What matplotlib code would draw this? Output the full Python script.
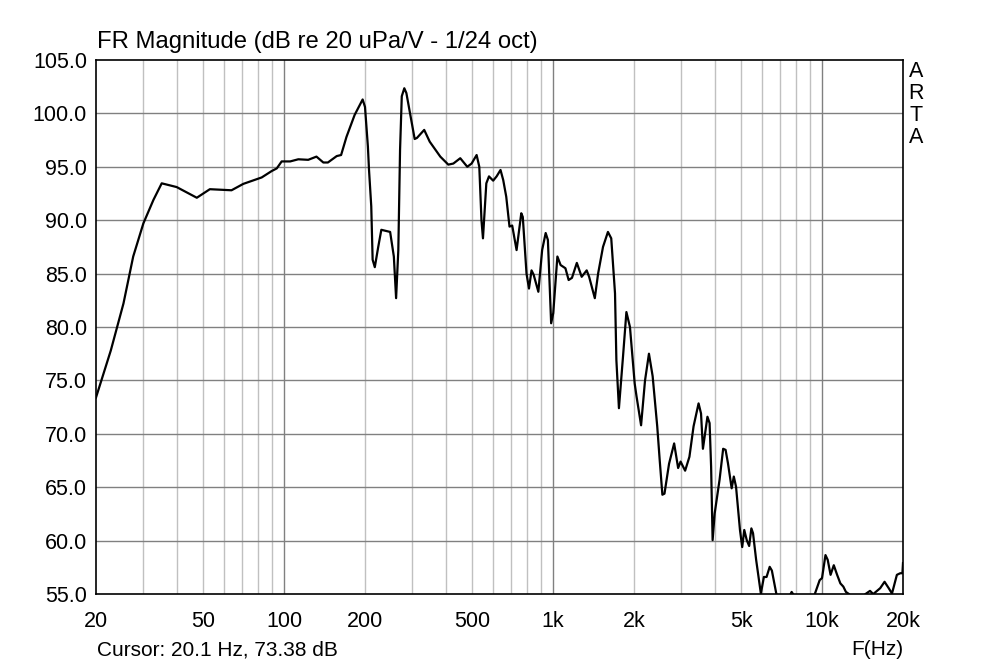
import matplotlib.pyplot as plt
import numpy as np

plt.rcParams['font.family'] = ['Liberation Sans', 'DejaVu Sans']

freq = [20, 21.3, 22.7, 25.3, 27.5, 30.0, 32.7, 35.1, 39.9, 47.4, 53, 63.8, 70.6, 82.6, 90, 94, 98,
        105.4, 113, 123, 132, 140, 145.6, 157, 163, 170.7, 183, 196, 200, 205, 207, 211, 213.5,
        217.5, 224, 230, 248, 256, 261, 266, 270, 274, 280, 285, 294, 306, 312, 332, 348, 381,
        408, 426, 452, 480, 498, 520, 532, 542, 549, 565, 578, 599, 617, 638, 653, 670, 689,
        705, 732, 762, 772, 797, 814, 832, 847, 882, 911, 939, 957, 984, 1002, 1038, 1067,
        1112, 1143, 1176, 1226, 1278, 1334, 1362, 1430, 1471, 1534, 1600, 1646, 1700, 1720,
        1758, 1820, 1874, 1932, 2012, 2044, 2125, 2198, 2273, 2346, 2440, 2492, 2550, 2596,
        2700, 2820, 2918, 2980, 3098, 3214, 3330, 3476, 3550, 3608, 3750, 3820, 3870, 3920,
        3990, 4160, 4290, 4380, 4470, 4614, 4700, 4790, 4954, 5050, 5140, 5250, 5360, 5462,
        5540, 5690, 5924, 6080, 6220, 6390, 6510, 6760, 7000, 7400, 7710, 7900, 8500, 9400,
        9800, 10000, 10300, 10500, 10760, 11060, 11380, 11700, 12000, 12270, 12600, 13200,
        13900, 14500, 15080, 15500, 16450, 17080, 17700, 18200, 18980, 19530, 19900, 20000]
spl = [73.4, 75.6, 77.8, 82.2, 86.6, 89.7, 91.9, 93.45, 93.1, 92.1, 92.9, 92.8, 93.4, 94.0, 94.6, 94.85, 95.5,
       95.5, 95.7, 95.65, 95.95, 95.4, 95.4, 96.0, 96.1, 97.8, 99.85, 101.3, 100.6, 96.9, 94.7, 91.3, 86.3,
       85.6, 87.5, 89.1, 88.9, 86.6, 82.7, 87.2, 96.6, 101.6, 102.35, 101.9, 100.0, 97.6, 97.7, 98.45, 97.35, 95.95,
       95.2, 95.3, 95.8, 95.0, 95.3, 96.1, 95.0, 90.0, 88.3, 93.45, 94.1, 93.7, 94.1, 94.7, 93.75, 92.2, 89.4,
       89.5, 87.2, 90.65, 90.3, 85.0, 83.6, 85.3, 84.9, 83.3, 87.2, 88.8, 88.15, 80.35, 81.3, 86.6, 85.8,
       85.5, 84.4, 84.6, 86.0, 84.7, 85.3, 84.7, 82.7, 85.0, 87.5, 88.9, 88.3, 83.15, 76.9,
       72.4, 77.2, 81.4, 80.0, 74.7, 73.5, 70.8, 75.0, 77.5, 75.4, 70.7, 67.55, 64.3, 64.4,
       67.2, 69.1, 66.8, 67.4, 66.55, 67.85, 70.7, 72.85, 71.9, 68.6, 71.6, 71.0, 66.9, 60.05,
       62.55, 65.7, 68.6, 68.5, 67.25, 64.9, 66.0, 65.05, 61.0, 59.4, 61.0, 60.05, 59.5, 61.15,
       60.7, 58.2, 55.05, 56.6, 56.6, 57.55, 57.2, 55.05, 53.5, 54.3, 55.2, 54.8, 53.5, 55.0,
       56.3, 56.5, 58.65, 58.2, 56.8, 57.7, 56.8, 56.0, 55.7, 55.2, 55.0, 54.2,
       54.6, 55.0, 55.3, 55.0, 55.55, 56.15, 55.55, 55.05, 56.8, 56.95, 56.95, 57.9]

xticks = [20, 50, 100, 200, 500, 1000, 2000, 5000, 10000, 20000]
xticklabels = ['20', '50', '100', '200', '500', '1k', '2k', '5k', '10k', '20k']
yticks = [55, 60, 65, 70, 75, 80, 85, 90, 95, 100, 105]

fig = plt.figure(figsize=(10, 6.66), dpi=100)
ax = fig.add_axes([0.096, 0.108, 0.807, 0.802])

# vertical grid: every 1..9 x decade, decades darker
for dec in [10, 100, 1000, 10000]:
    for m in range(1, 10):
        f = dec * m
        if 20 < f < 20000:
            c = '#808080' if m == 1 else '#c0c0c0'
            ax.axvline(f, color=c, lw=1, zorder=0)
for y in yticks[1:-1]:
    ax.axhline(y, color='#808080', lw=1, zorder=0)

ax.plot(freq, spl, color='black', lw=1.6)
ax.set_xscale('log')
ax.set_xlim(20, 20000)
ax.set_ylim(55, 105)
ax.set_xticks(xticks)
ax.set_xticklabels(xticklabels)
ax.minorticks_off()
ax.set_yticks(yticks)
ax.set_yticklabels(['%.1f' % y for y in yticks])
ax.tick_params(length=0, labelsize=15.5)
ax.tick_params(axis='x', pad=12)
ax.tick_params(axis='y', pad=6.5)
for s in ax.spines.values():
    s.set_linewidth(1.2)

fig.text(0.097, 0.928, 'FR Magnitude (dB re 20 uPa/V - 1/24 oct)', fontsize=17.2, va='baseline')
fig.text(0.097, 0.0165, 'Cursor: 20.1 Hz, 73.38 dB', fontsize=15, va='baseline')
fig.text(0.903, 0.0165, 'F(Hz)', fontsize=15, va='baseline', ha='right')
for i, ch in enumerate('ARTA'):
    fig.text(0.916, 0.892 - i * 0.033, ch, fontsize=15.5, va='center', ha='center')

fig.savefig('out.png', dpi=100, facecolor='white')
